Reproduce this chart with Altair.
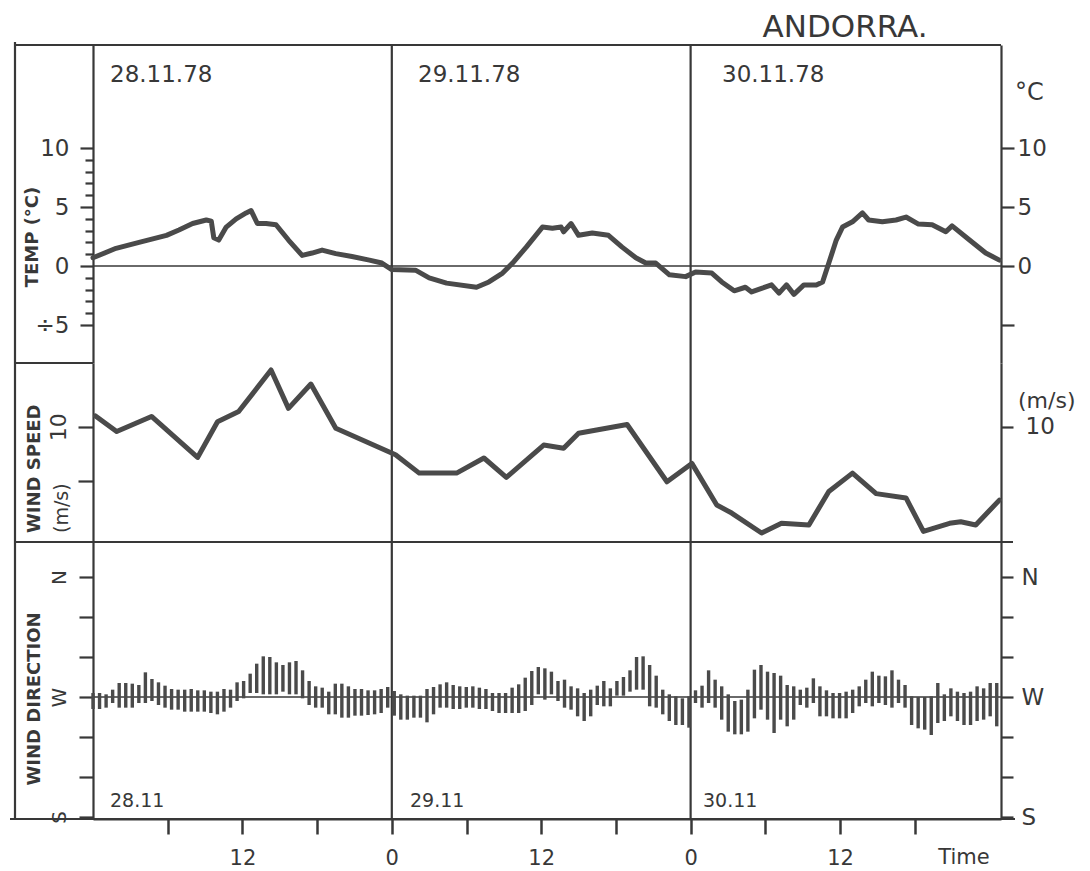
import altair as alt
import numpy as np
import pandas as pd

# ---------------- data ----------------
# temperature trace, hours since 28.11.78 00h
temp_t = [0.0, 1.85, 3.7, 5.9, 6.9, 8.0, 9.1, 9.5, 9.7, 10.1,
          10.7, 11.5, 12.3, 12.7, 13.2, 13.9, 14.7, 15.7, 16.8, 17.6,
          18.4, 19.5, 20.8, 22.2, 23.2, 24.0, 25.9, 27.0, 28.4, 30.8,
          31.8, 32.9, 33.7, 34.8, 36.1, 36.9, 37.6, 37.8, 38.4, 39.0,
          40.1, 41.4, 42.5, 43.6, 44.4, 45.2, 46.3, 47.6, 48.4, 49.7,
          50.5, 51.5, 52.4, 52.9, 53.7, 54.5, 55.1, 55.7, 56.3, 57.1,
          58.1, 58.6, 59.1, 59.7, 60.2, 61.0, 61.8, 62.3, 63.4, 64.5,
          65.3, 66.3, 67.4, 68.5, 69.0, 70.4, 71.7, 72.8]
temp_c = [0.7, 1.5, 2.0, 2.6, 3.05, 3.6, 3.9, 3.8, 2.4, 2.2,
          3.3, 4.0, 4.5, 4.7, 3.6, 3.6, 3.5, 2.2, 0.9, 1.1,
          1.35, 1.05, 0.8, 0.5, 0.25, -0.3, -0.35, -1.0, -1.45, -1.8,
          -1.35, -0.6, 0.25, 1.6, 3.3, 3.2, 3.3, 2.9, 3.6, 2.6,
          2.8, 2.6, 1.6, 0.7, 0.25, 0.25, -0.75, -0.9, -0.5, -0.6,
          -1.35, -2.1, -1.8, -2.2, -1.9, -1.6, -2.3, -1.6, -2.4, -1.6,
          -1.6, -1.35, 0.25, 2.2, 3.3, 3.75, 4.5, 3.9, 3.75, 3.9,
          4.15, 3.55, 3.5, 2.9, 3.4, 2.2, 1.1, 0.5]

# wind speed (m/s)
wind_t = [0.2, 1.9, 4.7, 8.4, 10.0, 11.7, 14.3, 15.7, 17.5, 19.5,
          24.3, 26.2, 29.2, 31.4, 33.2, 36.2, 37.8, 39.0, 42.9, 46.1,
          48.1, 50.1, 51.3, 53.7, 55.3, 57.5, 59.1, 61.0, 62.9, 65.3,
          66.7, 68.8, 69.7, 70.9, 72.8]
wind_ms = [11.0, 9.55, 10.95, 7.15, 10.45, 11.4, 15.25, 11.7, 13.95, 9.85,
           7.4, 5.7, 5.7, 7.1, 5.3, 8.3, 8.0, 9.4, 10.2, 4.9,
           6.6, 2.75, 2.0, 0.15, 1.05, 0.9, 4.0, 5.7, 3.8, 3.4,
           0.3, 1.05, 1.2, 0.9, 3.2]

# wind direction: range of each recording interval (degrees, W = 270)
DIR_STEP_H = 0.526
dir_high = [273, 273, 272,
            275.5, 280.5, 280.5, 280, 279, 288.5, 283.5, 281, 278.5, 276, 275.5, 275.5, 276, 275, 275, 274, 274,
            276, 275.5, 281, 282, 287.5, 295, 300.5, 300, 296, 294, 296, 297, 290, 282, 278, 277, 274,
            280, 280, 278, 276, 276, 275, 275, 276, 277.5, 274.5, 272, 271, 271, 271, 276, 277.5, 279.5, 281,
            279, 278, 277.5, 278, 277, 276, 273, 273, 273, 277, 279.5, 284.5, 289.5, 292.5, 291.5, 289, 282, 283,
            278, 276.5, 273, 275.5, 278.5, 282, 276.5, 282, 285, 290, 300, 300.5, 294, 286, 275.5, 272, 270.5,
            269, 270.5, 275, 278.5, 290, 283, 278, 272, 267, 268, 275.5, 290.5, 294, 289, 288, 286, 279, 278,
            275.5, 277, 284, 278, 275, 273, 273, 274, 275.5, 278, 283, 289, 286, 285.5, 290, 283, 279, 270.5,
            270, 270, 270.5, 280.5, 272, 276.5, 274, 273, 274, 278, 276.5, 280.5, 280.5]
dir_low = [261, 261, 262,
           265.5, 262, 262, 262, 265.5, 265.5, 267, 264, 262, 260.5, 260.5, 259, 259, 259, 259, 258, 257,
           259, 262, 267, 269, 273, 273, 272, 272, 272, 274, 272, 272, 269, 264, 262, 262, 257,
           257, 254.5, 254.5, 256, 256, 256.5, 257, 258, 262, 256, 253, 253, 254.5, 254.5, 251, 257, 262, 262,
           261, 261, 262, 262, 261, 261, 259.5, 258, 258, 258, 258, 259.5, 264, 272, 268, 272, 267, 262,
           260.5, 255.5, 252, 255.5, 264, 263, 263, 271, 271, 274, 275.5, 275.5, 263, 262, 257, 252, 249,
           249, 247, 265.5, 262, 265.5, 262, 253, 244, 242, 242, 244, 254, 260.5, 253, 243, 253, 248, 253,
           264, 262, 265.5, 255.5, 255.5, 254, 254, 254, 258, 263, 265.5, 263, 265.5, 264, 262, 265.5, 262, 249,
           246.5, 245.5, 241.5, 250.5, 252, 255.5, 252, 249, 249, 252, 253, 255.5, 248]

day_starts = [24, 48]

# ---------------- layout / style ----------------
FONT = "DejaVu Sans"
INK = "#383838"
TRACE = "#4a4a4a"

PANEL_W = 908
H_TEMP, H_WIND, H_DIR = 318, 179, 277
XMAX = 72.93
T_DOM = [-8.22, 18.73]
S_DOM = [-0.68, 15.9]
D_DOM = [178.5, 386.25]

one = pd.DataFrame({"k": [0]})
temp_df = pd.DataFrame({"t": temp_t, "v": temp_c})
wind_df = pd.DataFrame({"t": wind_t, "v": wind_ms})
dir_df = pd.DataFrame({"t": np.arange(len(dir_high)) * DIR_STEP_H, "hi": dir_high, "lo": dir_low})
days_df = pd.DataFrame({"t": day_starts})

x_scale = alt.Scale(domain=[0, XMAX], nice=False, zero=False)


def ax(**kw):
    base = dict(title=None, grid=False, domainColor=INK, domainWidth=2.2, tickColor=INK, tickWidth=2.2,
                labelFont=FONT, labelColor=INK, labelFontSize=23, labelOverlap=False, labelFlush=False)
    base.update(kw)
    return alt.Axis(**base)


def hline(y, x1, x2, w=2.2):
    return alt.Chart(one).mark_rule(color=INK, strokeWidth=w).encode(
        x=alt.value(x1), x2=alt.value(x2), y=alt.value(y))


def vline(x, y1, y2, w=2.2, opacity=1.0):
    return alt.Chart(one).mark_rule(color=INK, strokeWidth=w, strokeOpacity=opacity).encode(
        x=alt.value(x), y=alt.value(y1), y2=alt.value(y2))


def txt(s, x, y, size, angle=0, align="left", baseline="alphabetic", weight="normal"):
    return alt.Chart(one).mark_text(text=s, font=FONT, fontSize=size, angle=angle, align=align,
                                    baseline=baseline, fontWeight=weight, color=INK).encode(
        x=alt.value(x), y=alt.value(y))


# ---------------- temperature panel ----------------
t_scale = alt.Scale(domain=T_DOM, nice=False, zero=False)
temp_line = alt.Chart(temp_df).mark_line(color=TRACE, strokeWidth=5, strokeJoin="round", strokeCap="round").encode(
    x=alt.X("t:Q", scale=x_scale, axis=None),
    y=alt.Y("v:Q", scale=t_scale, axis=ax(
        orient="left", values=list(range(-5, 11)),
        tickSize={"condition": {"test": "abs(datum.value) % 5 == 0", "value": 13}, "value": 8},
        labelPadding=11,
        labelExpr="datum.value == -5 ? '÷5' : (datum.value % 5 == 0 ? datum.label : '')")))
zero_line = alt.Chart(one).mark_rule(color=INK, strokeWidth=1.5).encode(
    y=alt.YDatum(0, type="quantitative", scale=t_scale, axis=ax(
        orient="right", values=[-5, 0, 5, 10], tickSize=13, labelPadding=3,
        labelExpr="datum.value < 0 ? '' : datum.label")))
days_t = alt.Chart(days_df).mark_rule(color=INK, strokeWidth=2.2).encode(
    x=alt.X("t:Q", scale=x_scale, axis=None))

temp_panel = alt.layer(
    vline(-93, -45, -44, opacity=0),
    hline(0, -78, PANEL_W),
    vline(-78, -3, H_TEMP),
    hline(H_TEMP, -78, 0),
    days_t, zero_line, temp_line,
    txt("ANDORRA.", 752, -8, 31, align="center"),
    txt("28.11.78", 17, 37, 23),
    txt("29.11.78", 325, 37, 23),
    txt("30.11.78", 629, 37, 23),
    txt("°C", 922, 55, 24),
    txt("TEMP (°C)", -60, 192, 18, angle=270, align="center", baseline="middle", weight="bold"),
    vline(997, 825, 826, opacity=0),
).resolve_scale(y="independent").properties(width=PANEL_W, height=H_TEMP)

# ---------------- wind speed panel ----------------
s_scale = alt.Scale(domain=S_DOM, nice=False, zero=False)
wind_line = alt.Chart(wind_df).mark_line(color=TRACE, strokeWidth=5, strokeJoin="round", strokeCap="round").encode(
    x=alt.X("t:Q", scale=x_scale, axis=None),
    y=alt.Y("v:Q", scale=s_scale, axis=ax(
        orient="left", values=[5, 10], tickSize=15, labelPadding=8, labelAngle=270,
        labelAlign="center", labelBaseline="bottom", labelFontSize=22,
        labelExpr="datum.value == 10 ? '10' : ''")))
wind_right = alt.Chart(one).mark_rule(strokeOpacity=0).encode(
    y=alt.YDatum(10, type="quantitative", scale=s_scale, axis=ax(
        orient="right", values=[10], tickSize=12, labelPadding=12)))
days_s = alt.Chart(days_df).mark_rule(color=INK, strokeWidth=2.2).encode(
    x=alt.X("t:Q", scale=x_scale, axis=None))

wind_panel = alt.layer(
    vline(-78, 0, H_WIND),
    hline(H_WIND, -78, 920),
    days_s, wind_right, wind_line,
    txt("WIND SPEED", -58, 170, 18, angle=270, align="left", baseline="middle", weight="bold"),
    txt("(m/s)", -31, 170, 19, angle=270, align="left", baseline="middle"),
    txt("(m/s)", 925, 45, 22),
).resolve_scale(y="independent").properties(width=PANEL_W, height=H_WIND)

# ---------------- wind direction panel ----------------
d_scale = alt.Scale(domain=D_DOM, nice=False, zero=False)
x_dir = alt.X("t:Q", scale=x_scale, axis=ax(
    orient="bottom", values=list(range(6, 67, 6)), tickSize=15, tickWidth=2.5,
    labelPadding=30, labelBaseline="alphabetic", labelFontSize=21,
    labelExpr="(datum.value == 12 || datum.value == 36 || datum.value == 60) ? '12' : "
              "((datum.value == 24 || datum.value == 48) ? '0' : '')"))
compass = "datum.value == 360 ? 'N' : (datum.value == 270 ? 'W' : (datum.value == 180 ? 'S' : ''))"
bars = alt.Chart(dir_df).mark_rule(color=TRACE, strokeWidth=3.4).encode(
    x=x_dir,
    y=alt.Y("hi:Q", scale=d_scale, axis=ax(
        orient="left", values=list(range(180, 361, 30)), tickSize=14, labelPadding=10,
        labelAngle=270, labelAlign="center", labelBaseline="bottom", labelFontSize=20,
        labelExpr=compass)),
    y2="lo:Q")
w_line = alt.Chart(one).mark_rule(color=INK, strokeWidth=1.5).encode(
    y=alt.YDatum(270, type="quantitative", scale=d_scale, axis=ax(
        orient="right", values=list(range(180, 361, 30)), tickSize=12, labelPadding=8,
        labelExpr=compass)))
days_d = alt.Chart(days_df).mark_rule(color=INK, strokeWidth=2.2).encode(x=x_dir)

dir_panel = alt.layer(
    vline(-78, 0, H_DIR),
    hline(H_DIR, -83, 922),
    days_d, w_line, bars,
    txt("28.11", 17, 265, 19),
    txt("29.11", 317, 265, 19),
    txt("30.11", 610, 265, 19),
    txt("Time", 871, 322, 21, align="center"),
    txt("WIND DIRECTION", -58, 157, 18, angle=270, align="center", baseline="middle", weight="bold"),
).resolve_scale(y="independent").properties(width=PANEL_W, height=H_DIR)

chart = alt.vconcat(temp_panel, wind_panel, dir_panel, spacing=0, bounds="flush").properties(
    padding=0, background="white").configure_view(stroke=None)

chart.save("out.html", embed_options={"renderer": "svg", "actions": False})
